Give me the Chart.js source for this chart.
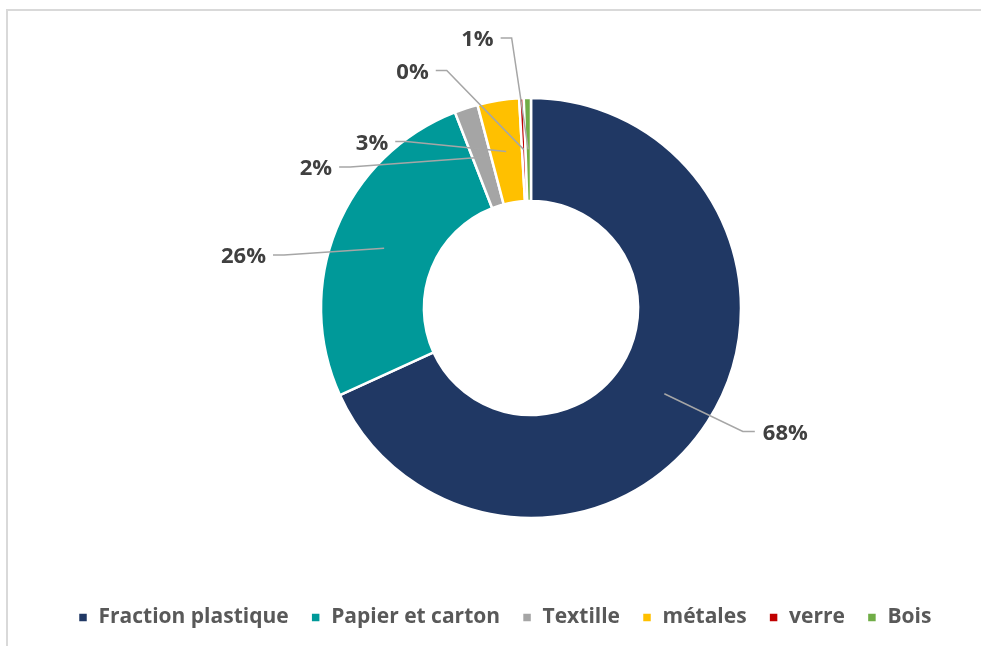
<!DOCTYPE html>
<html>
<head>
    <meta charset="utf-8">
    <title>Composition des déchets</title>
    <script src="https://cdn.jsdelivr.net/npm/chart.js@4/dist/chart.umd.min.js"></script>
    <style>
        html, body { margin: 0; padding: 0; background: #fff; overflow: hidden; }
        #cadre {
            position: absolute; left: 6px; top: 9px; width: 1100px; height: 700px;
            border-left: 2px solid #d9d9d9; border-top: 2px solid #d9d9d9;
        }
        #graphique { position: absolute; left: 0; top: 0; }
    </style>
</head>
<body>
    <div id="cadre"></div>
    <canvas id="graphique" width="1006" height="646"></canvas>

    <script>
        // Catégories et parts (en %)
        const categories = ['Fraction plastique', 'Papier et carton', 'Textille', 'métales', 'verre', 'Bois'];
        const valeurs = [68.2, 25.9, 1.8, 3.2, 0.35, 0.55];
        const couleurs = ['#203864', '#009999', '#a5a5a5', '#ffc000', '#c00000', '#70ad47'];

        // Position des étiquettes, en fraction du rayon extérieur, par rapport au centre
        const posEtiquettes = [
            [1.211, 0.588],
            [-1.369, -0.252],
            [-1.024, -0.671],
            [-0.757, -0.793],
            [-0.564, -1.131],
            [-0.255, -1.286]
        ];

        // Étiquettes avec lignes de rappel
        const etiquettes = {
            id: 'etiquettes',
            afterDatasetsDraw(chart) {
                const ctx = chart.ctx;
                const meta = chart.getDatasetMeta(0);
                const total = valeurs.reduce((a, b) => a + b, 0);
                ctx.save();
                ctx.font = 'bold 22px "Open Sans"';
                ctx.textBaseline = 'middle';
                ctx.textAlign = 'center';
                meta.data.forEach((arc, i) => {
                    const p = arc.getProps(['x', 'y', 'outerRadius'], true);
                    const ancre = arc.getCenterPoint();
                    const tx = p.x + posEtiquettes[i][0] * p.outerRadius;
                    const ty = p.y + posEtiquettes[i][1] * p.outerRadius;
                    const texte = Math.round(valeurs[i] / total * 100) + '%';
                    const w = ctx.measureText(texte).width;
                    const gauche = tx < p.x;
                    const bord = gauche ? tx + w / 2 + 7 : tx - w / 2 - 8;
                    const coude = gauche ? bord + 11 : bord - 12;

                    ctx.strokeStyle = '#a6a6a6';
                    ctx.lineWidth = 1.5;
                    ctx.beginPath();
                    ctx.moveTo(bord, ty);
                    ctx.lineTo(coude, ty);
                    ctx.lineTo(ancre.x, ancre.y);
                    ctx.stroke();

                    ctx.fillStyle = '#404040';
                    ctx.fillText(texte, tx, ty + 2);
                });
                ctx.restore();
            }
        };

        const ctx = document.getElementById('graphique').getContext('2d');
        const chart = new Chart(ctx, {
            type: 'doughnut',
            data: {
                labels: categories,
                datasets: [{
                    data: valeurs,
                    backgroundColor: couleurs,
                    borderColor: '#ffffff',
                    borderWidth: 2.5,
                    radius: 210,
                    cutout: '51%'
                }]
            },
            options: {
                responsive: false,
                animation: false,
                events: [],
                layout: {
                    padding: { top: 31, bottom: 8, left: 56, right: 0 }
                },
                plugins: {
                    tooltip: { enabled: false },
                    legend: {
                        position: 'bottom',
                        align: 'start',
                        labels: {
                            boxWidth: 10,
                            boxHeight: 10,
                            padding: 22,
                            color: '#595959',
                            font: { family: '"Open Sans"', size: 21, weight: 'bold' }
                        }
                    }
                }
            },
            plugins: [etiquettes]
        });
    </script>
</body>
</html>
